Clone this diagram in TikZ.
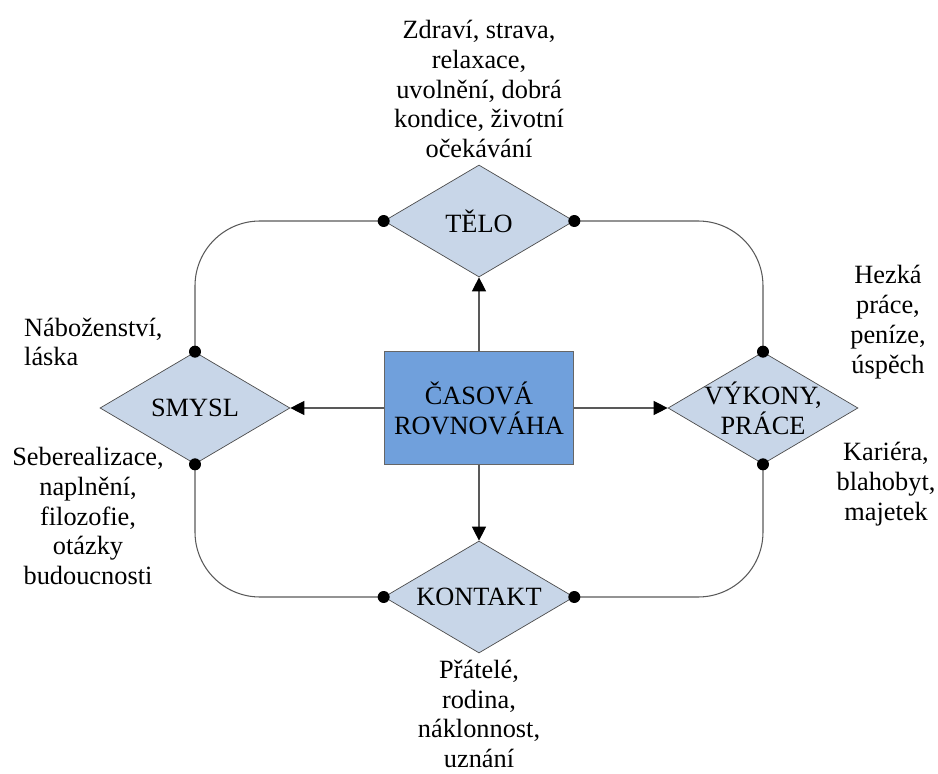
\documentclass[tikz,border=0pt]{standalone}
\usepackage{fontspec}
\setmainfont[Ligatures=TeX]{Liberation Serif}
\usetikzlibrary{shapes.geometric,arrows.meta,positioning}
\definecolor{diafill}{RGB}{200,214,232}
\definecolor{boxfill}{RGB}{112,160,220}

\begin{document}
\begin{tikzpicture}[x=0.02cm,y=-0.02cm,
	font=\rmfamily\fontsize{15}{17}\selectfont,
	every node/.style={align=center},
	kosoctverec/.style={diamond,draw=black!70,fill=diafill,minimum width=3.8cm,minimum height=2.24cm,inner sep=0pt},
	obdelnik/.style={rectangle,draw=black!60,fill=boxfill,minimum width=3.78cm,minimum height=2.26cm,inner sep=0pt},
	spoj/.style={draw=black!65,line width=0.6pt,rounded corners=1.3cm},
	sipka/.style={draw=black!65,line width=0.6pt,-{Triangle[length=0.28cm,width=0.28cm,fill=black,color=black]}},
	tecka/.style={fill=black}
]

	\useasboundingbox (0,0) rectangle (938,774);

	% uzly
	\node[obdelnik] (cas) at (479,408) {ČASOVÁ\\ROVNOVÁHA};
	\node[kosoctverec,label={center:TĚLO}] (telo) at (479,221) {};
	\node[kosoctverec,label={center:SMYSL}] (smysl) at (195,408) {};
	\node[kosoctverec,label={[align=center]center:VÝKONY,\\PRÁCE}] (vykon) at (763,408) {};
	\node[kosoctverec,label={center:KONTAKT}] (kontakt) at (479,597) {};

	% popisky
	\node (telotxt) at (479,89) {Zdraví, strava,\\relaxace,\\uvolnění, dobrá\\kondice, životní\\očekávání};
	\node[anchor=west,align=left] (smyslA) at (18,342) {Náboženství,\\láska};
	\node (smyslB) at (88,516) {Seberealizace,\\naplnění,\\filozofie,\\otázky\\budoucnosti};
	\node (vykonA) at (888,322) {Hezká\\práce,\\peníze,\\úspěch};
	\node (vykonB) at (886,484) {Kariéra,\\blahobyt,\\majetek};
	\node (kontakttxt) at (479,714) {Přátelé,\\rodina,\\náklonnost,\\uznání};

	% spojnice
	\draw[sipka] (cas.north) -- (telo.south);
	\draw[sipka] (cas.west) -- (smysl.east);
	\draw[sipka] (cas.east) -- (vykon.west);
	\draw[sipka] (cas.south) -- (kontakt.north);

	\draw[spoj] (telo.west) -| (smysl.north);
	\draw[spoj] (telo.east) -| (vykon.north);
	\draw[spoj] (kontakt.west) -| (smysl.south);
	\draw[spoj] (kontakt.east) -| (vykon.south);

	\foreach \k in {telo.west,telo.east,smysl.north,smysl.south,vykon.north,vykon.south,kontakt.west,kontakt.east}
		\fill[tecka] (\k) circle (0.12cm);

\end{tikzpicture}
\end{document}
